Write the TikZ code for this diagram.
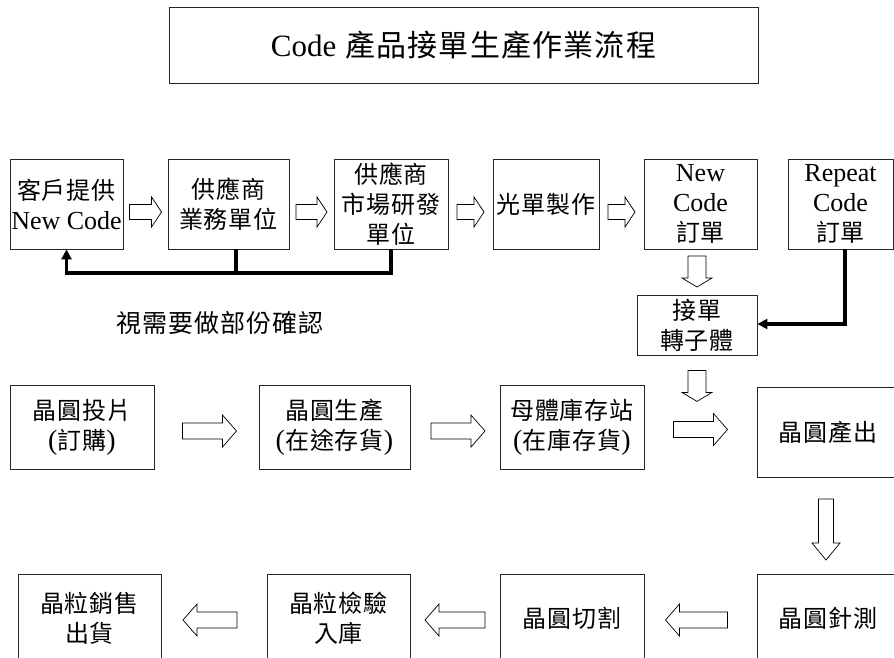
\documentclass[tikz,border=0pt]{standalone}
\usepackage{fontspec}
\setmainfont{Liberation Serif}
\newfontfamily\cjk[LetterSpace=4]{Noto Sans CJK TC}
\usetikzlibrary{calc,arrows.meta}
\newcommand\latn[1]{{\rmfamily\fontsize{26}{30}\selectfont #1}}
\newcommand\parn[1]{{\rmfamily\fontsize{28}{30}\selectfont #1}}
\begin{document}
\begin{tikzpicture}[x=1pt,y=-1pt,
  box/.style={draw=black!85, line width=0.8pt, fill=white, inner sep=0pt, align=center,
    font=\cjk\fontsize{24}{30}\selectfont},
  arrline/.style={draw=black, line width=0.7pt, fill=white, line join=miter},
  fbl/.style={line width=3.5pt, draw=black},
  pics/barr/.style n args={4}{code={
    \draw[arrline] ({-#1/2},{-#3/2}) -- ({#1/2-#4},{-#3/2}) -- ({#1/2-#4},{-#2/2})
      -- ({#1/2},0) -- ({#1/2-#4},{#2/2}) -- ({#1/2-#4},{#3/2}) -- ({-#1/2},{#3/2}) -- cycle;}}
]
\useasboundingbox (0,0) rectangle (894,657);
\fill[white] (0,0) rectangle (894,657);

% title
\node[draw=black!85, line width=0.8pt, minimum width=589pt, minimum height=76pt, inner sep=0pt,
  font=\cjk\fontsize{30}{36}\selectfont] (title) at (463.5,45)
  {{\rmfamily\fontsize{31}{36}\selectfont Code}\hspace{9pt}產品接單生產作業流程};

% top row
\node[box, minimum width=113pt, minimum height=90pt] (b1) at (66.5,204) {客戶提供\\\latn{New Code}};
\node[box, minimum width=121pt, minimum height=90pt] (b2) at (228.5,204) {供應商\\業務單位};
\node[box, minimum width=114pt, minimum height=90pt] (b3) at (391,204) {供應商\\市場研發\\單位};
\node[box, minimum width=106pt, minimum height=90pt] (b4) at (546,204) {光單製作};
\node[box, minimum width=113pt, minimum height=90pt] (b5) at (700.5,204) {\latn{New}\\\latn{Code}\\訂單};
\node[box, minimum width=105pt, minimum height=90pt] (b6) at (840.5,204) {\latn{Repeat}\\\latn{Code}\\訂單};
\node[box, minimum width=120pt, minimum height=60pt] (recv) at (697,325) {接單\\轉子體};

% second row
\node[box, minimum width=144pt, minimum height=84pt] (r1) at (82,427) {晶圓投片\\\parn{(}訂購\parn{)}};
\node[box, minimum width=151pt, minimum height=84pt] (r2) at (334.5,427) {晶圓生產\\\parn{(}在途存貨\parn{)}};
\node[box, minimum width=144pt, minimum height=84pt] (r3) at (572,427) {母體庫存站\\\parn{(}在庫存貨\parn{)}};
\node[box, minimum width=142pt, minimum height=90pt] (r4) at (828,432) {晶圓產出};

% third row
\node[box, minimum width=143pt, minimum height=88pt] (s1) at (89.5,618) {晶粒銷售\\出貨};
\node[box, minimum width=143pt, minimum height=88pt] (s2) at (338.5,618) {晶粒檢驗\\入庫};
\node[box, minimum width=144pt, minimum height=88pt] (s3) at (572,618) {晶圓切割};
\node[box, minimum width=142pt, minimum height=88pt] (s4) at (828,618) {晶圓針測};

% block arrows, top row
\pic at ($(b1.east)!.5!(b2.west)+(0,8)$) {barr={32}{30}{15}{10}};
\pic at ($(b2.east)!.5!(b3.west)+(0,8)$) {barr={31}{30}{15}{10}};
\pic at ($(b3.east)!.5!(b4.west)+(0,8)$) {barr={27}{30}{15}{10}};
\pic at ($(b4.east)!.5!(b5.west)+(0,8)$) {barr={27}{30}{15}{10}};
\pic[rotate=-90] at (697,271.5) {barr={31}{30}{18}{9}};
\pic[rotate=-90] at ($(recv.south)+(0,30.5)$) {barr={31}{30}{18}{9}};

% block arrows, second row
\pic at ($(r1.east)!.5!(r2.west)+(3,4)$) {barr={54}{32}{16}{14}};
\pic at ($(r2.east)!.5!(r3.west)+(3,4)$) {barr={54}{32}{16}{14}};
\pic at ($(r3.east)!.5!(r4.west)+(0,0)$) {barr={54}{32}{16}{14}};
\pic[rotate=-90] at (826,529.5) {barr={61}{28}{15}{17}};

% block arrows, third row
\pic[rotate=180] at ($(s1.east)!.5!(s2.west)+(-4,2)$) {barr={54}{32}{16}{14}};
\pic[rotate=180] at ($(s2.east)!.5!(s3.west)+(0,2)$) {barr={60}{32}{16}{14}};
\pic[rotate=180] at ($(s3.east)!.5!(s4.west)+(-4,2)$) {barr={62}{32}{16}{14}};

% feedback connector
\coordinate (fbL) at (66.5,273);
\coordinate (fbM) at (236,273);
\draw[fbl, -{Triangle[length=10pt,width=10pt]}] (b3.south) |- (fbL) -- (b1.south);
\draw[fbl] (fbM |- b2.south) -- (fbM);
\node[font=\cjk\fontsize{25}{30}\selectfont] (note) at (220,323) {視需要做部份確認};

% repeat code connector
\coordinate (rp) at (845,324);
\draw[fbl, -{Triangle[length=10pt,width=10pt]}] (rp |- b6.south) -- (rp) -- (recv.east |- rp);
\end{tikzpicture}
\end{document}
